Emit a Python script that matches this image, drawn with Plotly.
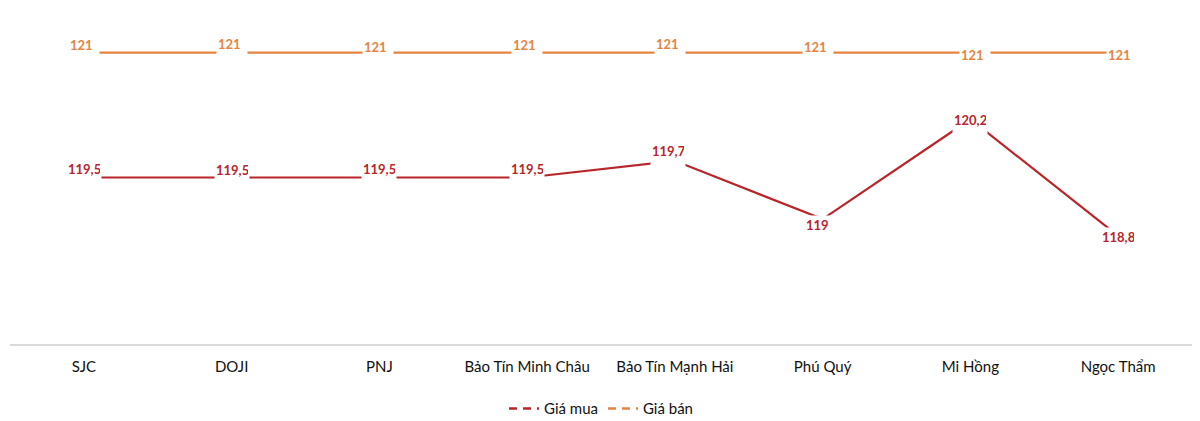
import plotly.graph_objects as go

# dữ liệu giá vàng (triệu đồng/lượng)
stores = ['SJC', 'DOJI', 'PNJ', 'Bảo Tín Minh Châu', 'Bảo Tín Mạnh Hải',
          'Phú Quý', 'Mi Hồng', 'Ngọc Thẩm']
gia_mua = [119.5, 119.5, 119.5, 119.5, 119.7, 119.0, 120.2, 118.8]
gia_ban = [121, 121, 121, 121, 121, 121, 121, 121]

RED = '#B8252A'
ORANGE = '#E5843F'

# label offsets (px) to mimic the manually placed Excel labels
mua_shift = [(0, 10), (0, 9), (0, 10), (0, 10), (-7, 11), (-3, -5), (0, 0), (0, 0)]
ban_shift = [(0, 9), (0, 10), (-1, 7), (0, 9), (-5, 10), (-5, 7), (5, -1), (4, -1)]


def fmt(v):
    s = ('%.1f' % v).rstrip('0').rstrip('.')
    return s.replace('.', ',')


fig = go.Figure()
fig.add_trace(go.Scatter(x=stores, y=gia_mua, mode='lines', showlegend=False,
                         line=dict(color=RED, width=2.2)))
fig.add_trace(go.Scatter(x=stores, y=gia_ban, mode='lines', showlegend=False,
                         line=dict(color=ORANGE, width=2.2)))
# legend only entries
fig.add_trace(go.Scatter(x=[None], y=[None], mode='lines', name='Giá mua',
                         line=dict(color=RED, width=2.5, dash='8px,6px')))
fig.add_trace(go.Scatter(x=[None], y=[None], mode='lines', name='Giá bán',
                         line=dict(color=ORANGE, width=2.5, dash='8px,6px')))

# white label boxes: text sits at the top, box reaches down over the line
annots = []
for vals, shifts, col in [(gia_mua, mua_shift, RED), (gia_ban, ban_shift, ORANGE)]:
    for s, v, (dx, dy) in zip(stores, vals, shifts):
        txt = fmt(v)
        annots.append(dict(x=s, y=v, text='<b>%s</b>' % txt, showarrow=False,
                           xshift=dx, yshift=dy - 5, bgcolor='white', borderpad=1,
                           width=28 if len(txt) <= 3 else 32, height=24,
                           align='left', valign='top',
                           font=dict(size=13, color=col, family='Lato')))

fig.update_layout(
    width=1200, height=421,
    margin=dict(l=10, r=8, t=11, b=0, autoexpand=False),
    paper_bgcolor='white', plot_bgcolor='white',
    font=dict(family='Lato', color='#111111', size=15),
    annotations=annots,
    xaxis=dict(showline=True, linecolor='#d9d9d9', linewidth=2, showgrid=False,
               ticks='outside', ticklen=8, tickcolor='rgba(0,0,0,0)',
               range=[-0.5, 7.5], tickfont=dict(size=15, color='#111111')),
    yaxis=dict(visible=False, range=[117.5, 121.5], showgrid=False, zeroline=False,
               domain=[77 / 410, 1]),
    legend=dict(orientation='h', x=0.5, xanchor='center', y=0.03, yanchor='middle',
                font=dict(size=15), itemwidth=30),
)

# remove default body margin so the chart sits at the page corner
fig.write_html('out.html', config={'displayModeBar': False},
               post_script="document.body.style.margin='0';")
